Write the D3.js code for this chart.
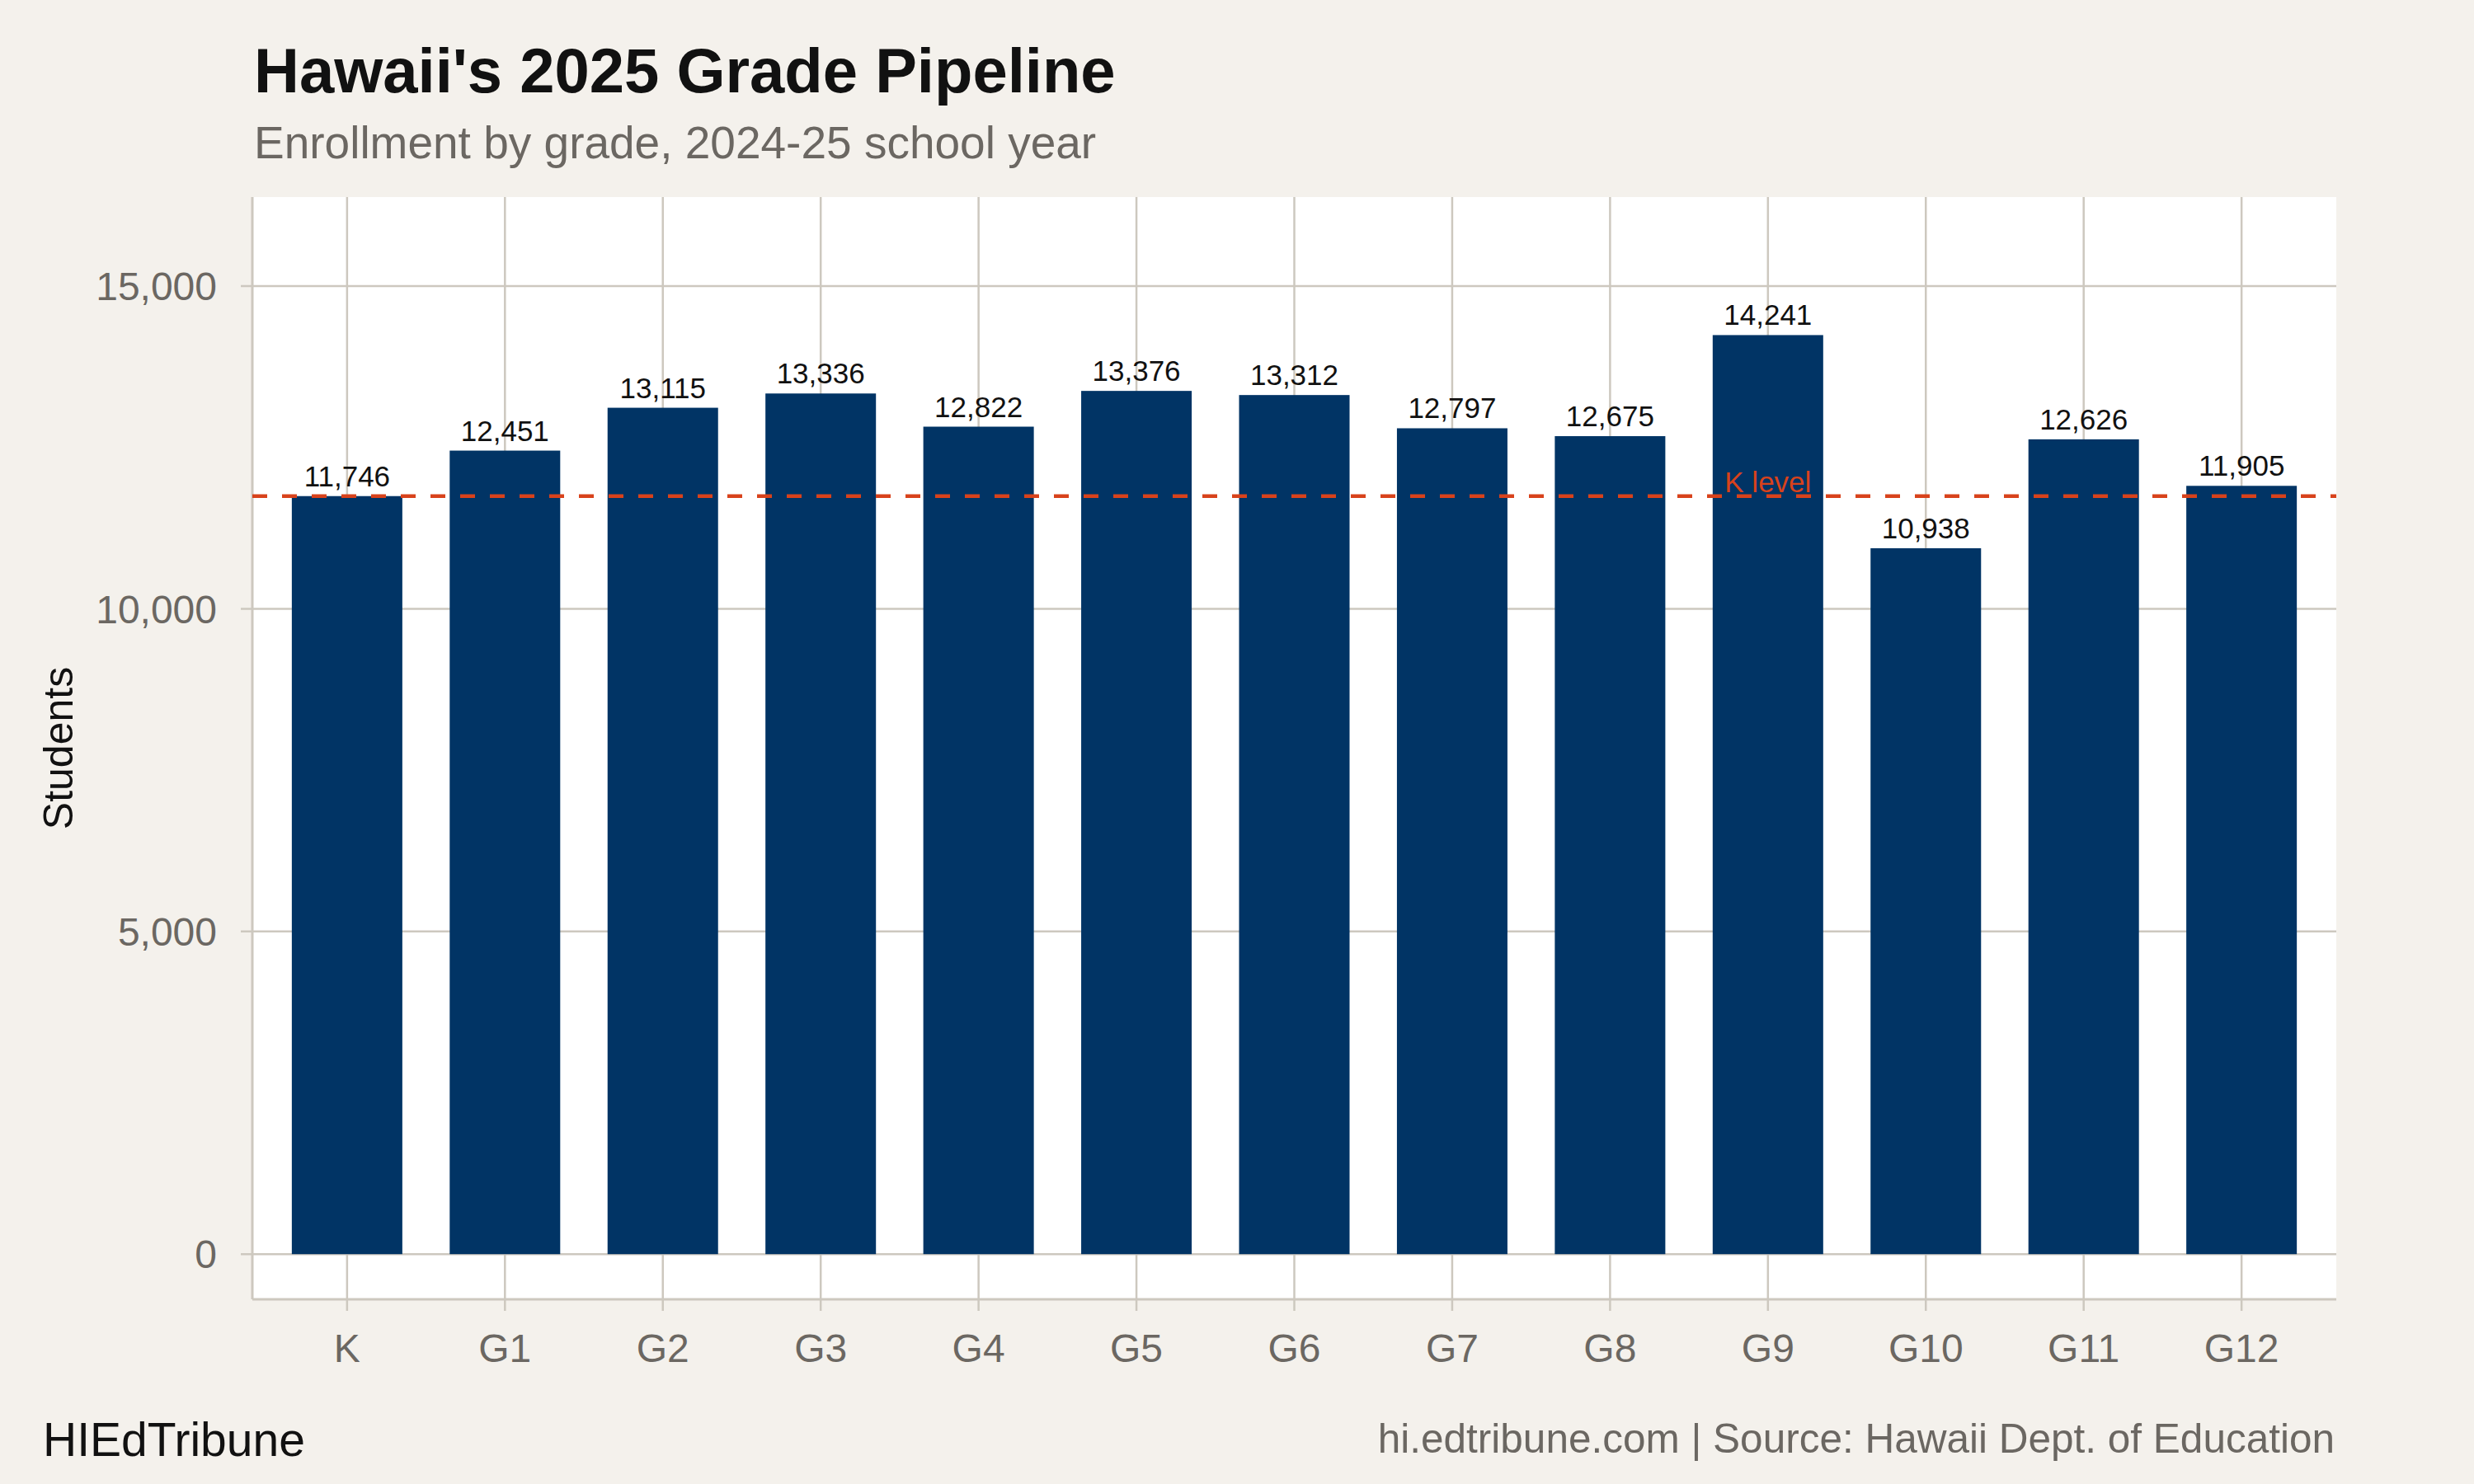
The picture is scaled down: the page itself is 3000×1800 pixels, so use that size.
<!DOCTYPE html>
<html>
<head>
<meta charset="utf-8">
<script src="https://cdn.jsdelivr.net/npm/d3@7"></script>
<style>
  body { margin: 0; background: #f4f1ec; }
  svg { display: block; font-family: "Liberation Sans", Arial, Helvetica, sans-serif; }
</style>
</head>
<body>
<svg id="chart"></svg>
<script>
// data
var grades = ['K', 'G1', 'G2', 'G3', 'G4', 'G5', 'G6', 'G7', 'G8', 'G9', 'G10', 'G11', 'G12'];
var students = [11746, 12451, 13115, 13336, 12822, 13376, 13312, 12797, 12675, 14241, 10938, 12626, 11905];
var yTicks = [0, 5000, 10000, 15000];
var kLevel = students[0];

var svgWidth = 3000, svgHeight = 1800;
var panel = { left: 306, right: 2833, top: 239, bottom: 1576 };
var gridColor = '#cdc8bf';

var svg = d3.select('#chart')
    .attr('width', svgWidth)
    .attr('height', svgHeight);

svg.append('rect')
    .attr('width', svgWidth)
    .attr('height', svgHeight)
    .attr('fill', '#f4f1ec');

var xScale = d3.scalePoint()
    .domain(grades)
    .range([panel.left, panel.right])
    .padding(0.6);

var yScale = d3.scaleLinear()
    .domain([-700, 16380])
    .range([panel.bottom, panel.top]);

var barWidth = xScale.step() * 0.7;

// panel
svg.append('rect')
    .attr('x', panel.left)
    .attr('y', panel.top)
    .attr('width', panel.right - panel.left)
    .attr('height', panel.bottom - panel.top)
    .attr('fill', '#ffffff');

// grid
svg.selectAll('.hgrid')
    .data(yTicks)
    .enter()
    .append('line')
    .attr('class', 'hgrid')
    .attr('x1', panel.left - 14)
    .attr('x2', panel.right)
    .attr('y1', function(d) { return yScale(d); })
    .attr('y2', function(d) { return yScale(d); })
    .attr('stroke', gridColor)
    .attr('stroke-width', 2.5);

svg.selectAll('.vgrid')
    .data(grades)
    .enter()
    .append('line')
    .attr('class', 'vgrid')
    .attr('x1', function(d) { return xScale(d); })
    .attr('x2', function(d) { return xScale(d); })
    .attr('y1', panel.top)
    .attr('y2', panel.bottom + 14)
    .attr('stroke', gridColor)
    .attr('stroke-width', 2.5);

// bars
svg.selectAll('.bar')
    .data(students)
    .enter()
    .append('rect')
    .attr('class', 'bar')
    .attr('x', function(d, i) { return xScale(grades[i]) - barWidth / 2; })
    .attr('y', function(d) { return yScale(d); })
    .attr('width', barWidth)
    .attr('height', function(d) { return yScale(0) - yScale(d); })
    .attr('fill', '#013465');

// axis lines
svg.append('line')
    .attr('x1', panel.left).attr('x2', panel.left)
    .attr('y1', panel.top).attr('y2', panel.bottom)
    .attr('stroke', gridColor)
    .attr('stroke-width', 3);

svg.append('line')
    .attr('x1', panel.left).attr('x2', panel.right)
    .attr('y1', panel.bottom).attr('y2', panel.bottom)
    .attr('stroke', gridColor)
    .attr('stroke-width', 3);

// K level reference line
svg.append('line')
    .attr('x1', panel.left)
    .attr('x2', panel.right)
    .attr('y1', yScale(kLevel))
    .attr('y2', yScale(kLevel))
    .attr('stroke', '#d8421b')
    .attr('stroke-width', 4.5)
    .attr('stroke-dasharray', '18,18');

svg.append('text')
    .text('K level')
    .attr('x', xScale('G9'))
    .attr('y', yScale(kLevel) - 5)
    .attr('text-anchor', 'middle')
    .style('font-size', '35px')
    .attr('fill', '#d8421b');

// value labels
svg.selectAll('.val')
    .data(students)
    .enter()
    .append('text')
    .attr('class', 'val')
    .text(function(d) { return d3.format(',')(d); })
    .attr('x', function(d, i) { return xScale(grades[i]); })
    .attr('y', function(d) { return yScale(d) - 12; })
    .attr('text-anchor', 'middle')
    .style('font-size', '35px')
    .attr('fill', '#111111');

// tick labels
svg.selectAll('.ylab')
    .data(yTicks)
    .enter()
    .append('text')
    .attr('class', 'ylab')
    .text(function(d) { return d3.format(',')(d); })
    .attr('x', 263)
    .attr('y', function(d) { return yScale(d); })
    .attr('dy', '0.36em')
    .attr('text-anchor', 'end')
    .style('font-size', '48px')
    .attr('fill', '#6b6762');

svg.selectAll('.xlab')
    .data(grades)
    .enter()
    .append('text')
    .attr('class', 'xlab')
    .text(function(d) { return d; })
    .attr('x', function(d) { return xScale(d); })
    .attr('y', 1652)
    .attr('text-anchor', 'middle')
    .style('font-size', '48px')
    .attr('fill', '#6b6762');

// axis title
svg.append('text')
    .text('Students')
    .attr('transform', 'translate(88,' + ((panel.top + panel.bottom) / 2) + ') rotate(-90)')
    .attr('text-anchor', 'middle')
    .style('font-size', '50px')
    .attr('fill', '#111111');

// titles
svg.append('text')
    .text("Hawaii's 2025 Grade Pipeline")
    .attr('x', 308)
    .attr('y', 112)
    .style('font-size', '76px')
    .style('font-weight', 'bold')
    .attr('fill', '#111111');

svg.append('text')
    .text('Enrollment by grade, 2024-25 school year')
    .attr('x', 308)
    .attr('y', 192)
    .style('font-size', '55px')
    .attr('fill', '#6b6762');

// footer
svg.append('text')
    .text('HIEdTribune')
    .attr('x', 52)
    .attr('y', 1766)
    .style('font-size', '57px')
    .attr('fill', '#111111');

svg.append('text')
    .text('hi.edtribune.com | Source: Hawaii Dept. of Education')
    .attr('x', 2831)
    .attr('y', 1762)
    .attr('text-anchor', 'end')
    .style('font-size', '49.5px')
    .attr('fill', '#6b6762');
</script>
</body>
</html>
